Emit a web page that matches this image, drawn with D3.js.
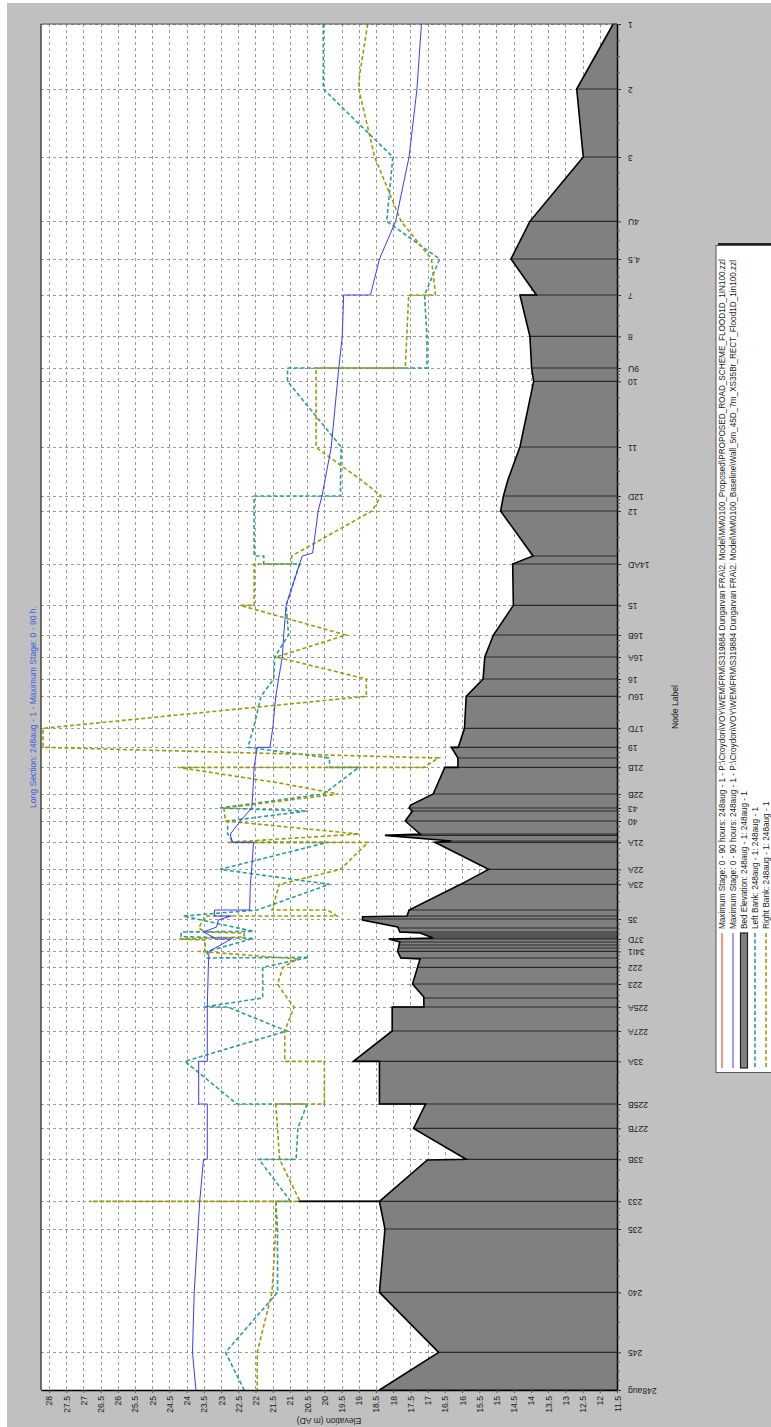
<!DOCTYPE html>
<html><head><meta charset="utf-8">
<script src="https://cdn.jsdelivr.net/npm/d3@7"></script>
<style>
body{margin:0;background:#fff}
svg{display:block}
text{font-family:"Liberation Sans",Arial,sans-serif}
</style>
</head><body>
<svg id="c" width="771" height="1427"></svg>
<script>
// ---- data ----
const titleText = "Long Section: 248aug - 1 - Maximum Stage: 0 - 90 h.";
const nodeLabels = ["1","2","3","4U","4.5","7","8","9U","10","11","12D","12","14AD","15","16B","16A","16","16U","17D","19","21B","22B","43","40","21A","22A","23A","35","37D","34I1","222","223","225A","227A","33A","225B","227B","33B","233","235","240","245","248aug"];
const nodeChainage = [4098,3903,3699,3506,3393,3285,3161,3066,3026,2829,2682,2637,2478,2354,2265,2199,2133,2081,1985,1928,1868,1788,1746,1707,1643,1562,1517,1413,1353,1316,1268,1218,1149,1077,986,858,785,692,566,483,293,113,0];
const otherSectionChainage = [2502,1896,1737,1668,1664,1647,1440,1422,1386,1374,1368,1362,1356,1344,1335,1326,1296,1176];
const elevationTicks = [28,27.5,27,26.5,26,25.5,25,24.5,24,23.5,23,22.5,22,21.5,21,20.5,20,19.5,19,18.5,18,17.5,17,16.5,16,15.5,15,14.5,14,13.5,13,12.5,12,11.5];

const bedElevation = [[4098,11.61],[3903,12.67],[3699,12.48],[3506,14.03],[3393,14.58],[3285,13.84],[3285,14.32],[3161,14.03],[3066,13.98],[3026,13.92],[2829,14.32],[2730,14.67],[2682,14.80],[2637,14.88],[2502,13.94],[2478,14.53],[2354,14.51],[2265,15.09],[2199,15.34],[2133,15.39],[2081,15.88],[1985,15.93],[1928,16.11],[1928,16.31],[1896,16.12],[1868,16.12],[1868,16.50],[1788,16.84],[1755,17.49],[1746,17.54],[1737,17.44],[1707,17.65],[1668,17.22],[1664,18.24],[1647,16.31],[1643,16.79],[1562,15.23],[1517,16.04],[1440,17.54],[1422,17.60],[1420,18.89],[1410,18.89],[1389,17.87],[1374,17.81],[1371,17.22],[1356,16.84],[1353,18.13],[1344,17.81],[1316,17.87],[1296,17.78],[1293,17.22],[1218,17.44],[1179,17.11],[1149,17.11],[1149,18.03],[1077,18.03],[986,19.16],[986,18.40],[858,18.40],[858,17.06],[785,17.41],[692,15.88],[690,17.01],[566,18.40],[566,20.75],[566,18.40],[483,18.24],[293,18.40],[113,16.68],[0,18.40]];

const leftBank = [[4098,20.03],[3903,20.03],[3699,18.01],[3506,18.19],[3393,16.65],[3285,17.09],[3161,17.02],[3066,17.02],[3066,21.07],[3026,21.07],[2829,19.51],[2730,19.53],[2682,19.53],[2682,22.04],[2502,22.04],[2502,21.76],[2478,21.76],[2478,20.72],[2354,21.11],[2265,21.04],[2199,21.44],[2133,21.47],[2081,21.84],[1985,22.06],[1928,22.22],[1896,19.85],[1868,19.85],[1868,19.00],[1788,20.02],[1746,23.03],[1737,20.50],[1707,22.81],[1668,22.81],[1643,22.65],[1643,19.90],[1562,23.03],[1517,19.85],[1440,21.95],[1422,24.10],[1376,22.06],[1374,24.16],[1360,24.16],[1355,22.06],[1316,23.40],[1296,23.40],[1298,20.45],[1268,21.79],[1176,21.79],[1149,23.51],[1149,22.81],[1077,21.09],[986,24.05],[858,22.54],[858,20.50],[785,20.77],[692,20.82],[692,21.90],[566,20.98],[566,21.41],[483,21.36],[293,21.36],[113,22.87],[0,22.33]];

const rightBank = [[4098,18.74],[3942,18.98],[3903,19.00],[3699,18.54],[3506,17.77],[3393,16.89],[3285,16.77],[3285,17.55],[3066,17.65],[3066,20.24],[2829,20.24],[2820,20.14],[2730,18.93],[2682,18.35],[2637,18.62],[2502,20.95],[2478,20.95],[2478,22.04],[2354,22.04],[2354,22.44],[2265,19.37],[2199,21.40],[2133,18.78],[2081,18.78],[1985,28.17],[1928,28.17],[1896,16.68],[1868,17.11],[1868,24.26],[1821,21.31],[1788,19.59],[1746,22.92],[1707,22.87],[1668,18.99],[1643,22.81],[1643,18.73],[1562,19.53],[1517,21.31],[1440,21.52],[1440,19.91],[1422,19.64],[1422,23.46],[1386,23.65],[1374,23.46],[1371,22.33],[1359,22.33],[1353,24.21],[1350,23.46],[1316,23.46],[1316,23.65],[1293,20.77],[1268,21.20],[1218,21.36],[1179,21.10],[1149,20.88],[1077,21.15],[986,21.15],[986,20.00],[858,20.00],[858,21.41],[692,21.30],[566,20.71],[566,26.84],[566,21.41],[483,21.41],[293,21.52],[113,21.95],[0,21.95]];

const maxStageBaseline = [[4098,17.18],[3903,17.31],[3699,17.54],[3506,17.93],[3393,18.40],[3285,18.66],[3285,19.44],[3161,19.48],[3066,19.58],[2829,19.80],[2730,19.98],[2682,20.07],[2637,20.18],[2511,20.34],[2502,20.64],[2478,20.72],[2354,21.11],[2265,21.18],[2199,21.22],[2133,21.33],[2081,21.41],[1985,21.50],[1928,21.58],[1928,21.95],[1868,22.04],[1788,22.08],[1746,22.11],[1707,22.44],[1668,22.73],[1643,22.68],[1643,22.06],[1562,22.11],[1517,22.15],[1440,22.17],[1440,23.19],[1422,23.19],[1422,22.70],[1410,23.08],[1389,23.13],[1374,23.51],[1353,23.13],[1353,22.70],[1316,23.35],[1268,23.37],[1149,23.40],[986,23.40],[986,23.65],[858,23.65],[858,23.40],[692,23.40],[692,23.51],[566,23.62],[293,23.78],[113,23.83],[0,23.73]];

const legendLabels = [
 "Maximum Stage: 0 - 90 hours: 248aug - 1 - P:\\Croydon\\VOY\\WEM\\FRM\\S319884 Dungarvan FRA\\2. Model\\MM\\0100_Proposed\\PROPOSED_ROAD_SCHEME_FLOOD1D_1IN100.zzl",
 "Maximum Stage: 0 - 90 hours: 248aug - 1 - P:\\Croydon\\VOY\\WEM\\FRM\\S319884 Dungarvan FRA\\2. Model\\MM\\0100_Baseline\\Wall_5m_45D_7m_XS35Br_RECT_Flood1D_1in100.zzl",
 "Bed Elevation: 248aug - 1: 248aug - 1",
 "Left Bank: 248aug - 1: 248aug - 1",
 "Right Bank: 248aug - 1: 248aug - 1"
];

// ---- drawing ----
const FONT = '"Liberation Sans",Arial,sans-serif';
const svg = d3.select('#c');
svg.append('rect').attr('x',7).attr('y',3).attr('width',764).attr('height',1424).attr('fill','#c0c0c0');

const P = {left:41, right:617, top:24, bottom:1390};
const xE = d3.scaleLinear().domain([28.23, 11.5]).range([P.left, P.right]);
const yC = d3.scaleLinear().domain([0, 4098]).range([P.bottom, P.top]);

svg.append('rect').attr('x',P.left).attr('y',P.top).attr('width',P.right-P.left).attr('height',P.bottom-P.top).attr('fill','#fff');

const grid = svg.append('g').attr('stroke','#9a9a9a').attr('stroke-width',1).attr('stroke-dasharray','3,3');
grid.selectAll('line.v').data(elevationTicks).join('line')
  .attr('x1',d=>Math.round(xE(d))+0.5).attr('x2',d=>Math.round(xE(d))+0.5)
  .attr('y1',P.top).attr('y2',P.bottom);
grid.selectAll('line.h').data(nodeChainage).join('line').attr('class','h')
  .attr('y1',d=>Math.round(yC(d))+0.5).attr('y2',d=>Math.round(yC(d))+0.5)
  .attr('x1',P.left).attr('x2',P.right);

// bed area
const area = d3.area().y(d=>yC(d[0])).x0(d=>xE(d[1])).x1(P.right);
svg.append('path').datum(bedElevation).attr('d',area).attr('fill','#808080');

// section lines
const allSections = nodeChainage.concat(otherSectionChainage);
const bedAt = c => d3.max(bedElevation.filter(p=>p[0]===c), p=>p[1]);
const sec = allSections.map(c => {
  let b = bedAt(c);
  if (b === undefined) {
    const i = bedElevation.findIndex(p=>p[0] < c);
    const a = bedElevation[i-1], z = bedElevation[i];
    b = a[1] + (z[1]-a[1])*(a[0]-c)/(a[0]-z[0]);
  }
  return [c,b];
});
svg.append('g').selectAll('line').data(sec).join('line')
  .attr('y1',d=>yC(d[0])).attr('y2',d=>yC(d[0]))
  .attr('x1',d=>xE(d[1])).attr('x2',P.right)
  .attr('stroke','#2a2a2a').attr('stroke-width',1.2);

const line = d3.line().y(d=>yC(d[0])).x(d=>xE(d[1]));
svg.append('path').datum(bedElevation).attr('d',line).attr('fill','none').attr('stroke','#000').attr('stroke-width',1.6).attr('stroke-linejoin','miter');

svg.append('path').datum(leftBank).attr('d',line).attr('fill','none').attr('stroke','#2e9a9a').attr('stroke-width',1.6).attr('stroke-dasharray','4,2.5');
svg.append('path').datum(rightBank).attr('d',line).attr('fill','none').attr('stroke','#9c9a0c').attr('stroke-width',1.6).attr('stroke-dasharray','4,2.5');
svg.append('path').datum(maxStageBaseline).attr('d',line).attr('fill','none').attr('stroke','#3c3cff').attr('stroke-width',1);

// frame
svg.append('line').attr('x1',P.left).attr('x2',P.left).attr('y1',P.top).attr('y2',P.bottom).attr('stroke','#444').attr('stroke-width',1.5);
svg.append('line').attr('x1',P.left).attr('x2',P.right).attr('y1',P.top).attr('y2',P.top).attr('stroke','#555').attr('stroke-width',1);

// right axis (node labels)
const axR = svg.append('g').attr('transform',`translate(${P.right},0)`)
  .call(d3.axisRight(yC).tickValues(nodeChainage).tickFormat((d,i)=>nodeLabels[i]).tickSize(4).tickSizeOuter(0));
axR.select('.domain').attr('stroke','#000').attr('stroke-width',1.5);
axR.selectAll('.tick line').attr('stroke','#333');
axR.selectAll('.tick text').attr('x',null).attr('dy',null)
  .attr('transform','translate(11,0) rotate(180)').attr('text-anchor','end')
  .attr('dominant-baseline','central').attr('font-size',8.6).attr('fill','#222')
  .attr('font-family',FONT);
const minor = [];
for (let i=0;i<nodeChainage.length-1;i++){
  const a=nodeChainage[i], b=nodeChainage[i+1];
  for (let k=1;k<4;k++) minor.push(a+(b-a)*k/4);
}
svg.append('g').selectAll('line').data(minor).join('line')
  .attr('x1',P.right).attr('x2',P.right+3)
  .attr('y1',d=>yC(d)).attr('y2',d=>yC(d)).attr('stroke','#555');

// bottom axis (elevation)
const axB = svg.append('g').attr('transform',`translate(0,${P.bottom})`)
  .call(d3.axisBottom(xE).tickValues(elevationTicks).tickFormat(d=>String(d)).tickSize(3).tickSizeOuter(0));
axB.select('.domain').attr('stroke','#000').attr('stroke-width',1.5);
axB.selectAll('.tick line').attr('stroke','#555');
axB.selectAll('.tick text').attr('y',null).attr('dy',null)
  .attr('transform','translate(0,6) rotate(-90)').attr('text-anchor','end')
  .attr('dominant-baseline','central').attr('font-size',8.6).attr('fill','#222')
  .attr('font-family',FONT);

// axis titles
svg.append('text').attr('transform','translate(329,1421) rotate(180)').attr('text-anchor','middle')
  .attr('dominant-baseline','central').attr('font-size',8.6).attr('fill','#222').text('Elevation (m AD)');
svg.append('text').attr('transform','translate(675,707) rotate(-90)').attr('text-anchor','middle')
  .attr('dominant-baseline','central').attr('font-size',8.6).attr('fill','#222').text('Node Label');
svg.append('text').attr('transform','translate(33,707) rotate(-90)').attr('text-anchor','middle')
  .attr('dominant-baseline','central').attr('font-size',8.6).attr('fill','#3a5fe0').text(titleText);

// legend
svg.append('rect').attr('x',718).attr('y',243).attr('width',60).attr('height',828).attr('fill','#222');
svg.append('rect').attr('x',716).attr('y',245.5).attr('width',60).attr('height',827).attr('fill','#fff').attr('stroke','#555').attr('stroke-width',1);
const legX = [722,733,744,755,766];
const lg = svg.append('g');
const ly0 = 933, ly1 = 1068;
lg.append('line').attr('x1',legX[0]).attr('x2',legX[0]).attr('y1',ly0).attr('y2',ly1).attr('stroke','#ff2020').attr('stroke-width',1);
lg.append('line').attr('x1',legX[1]).attr('x2',legX[1]).attr('y1',ly0).attr('y2',ly1).attr('stroke','#3c3cff').attr('stroke-width',1);
lg.append('rect').attr('x',legX[2]-3.5).attr('y',ly0).attr('width',7).attr('height',ly1-ly0).attr('fill','#808080').attr('stroke','#222').attr('stroke-width',1.2);
lg.append('line').attr('x1',legX[3]).attr('x2',legX[3]).attr('y1',ly0).attr('y2',ly1).attr('stroke','#2e9a9a').attr('stroke-width',1.6).attr('stroke-dasharray','4,2.5');
lg.append('line').attr('x1',legX[4]).attr('x2',legX[4]).attr('y1',ly0).attr('y2',ly1).attr('stroke','#9c9a0c').attr('stroke-width',1.6).attr('stroke-dasharray','4,2.5');
lg.selectAll('text').data(legendLabels).join('text')
  .attr('transform',(d,i)=>`translate(${legX[i]},929) rotate(-90)`)
  .attr('text-anchor','start').attr('dominant-baseline','central')
  .attr('font-size',8.2).attr('fill','#222').text(d=>d);
</script>
</body></html>
